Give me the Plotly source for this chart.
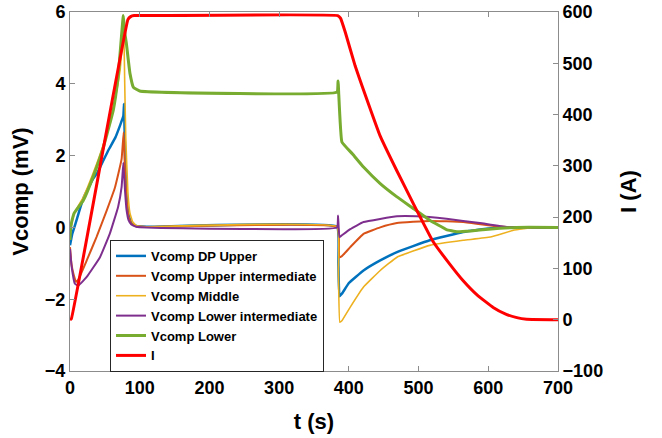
import plotly.graph_objects as go

# ---------------- data ----------------
t_blue = [0, 3, 7, 14, 20, 33, 40, 55, 65, 72, 76.5, 77.5, 79, 81, 84, 88, 95, 110,
          383, 385, 386.5, 390, 400, 421, 445, 469, 516, 564, 612, 650, 700]
v_blue = [-0.5, -0.2, 0.05, 0.5, 0.85, 1.35, 1.55, 2.15, 2.5, 2.85, 3.1, 3.44, 2.0, 0.9, 0.35, 0.12, 0.04, 0.02,
          0.02, -1.0, -1.92, -1.85, -1.55, -1.2, -0.92, -0.69, -0.36, -0.13, 0.0, 0.0, 0.0]

t_orange = [0, 2, 5, 8.6, 12, 24, 38, 52.6, 64.6, 74, 77, 79, 81, 84, 88, 95, 110,
            384, 386, 390, 402, 421, 445, 469, 516, 564, 612, 640, 700]
v_orange = [-0.55, -1.0, -1.3, -1.52, -1.45, -0.92, -0.27, 0.47, 1.12, 1.9, 2.65, 1.5, 0.8, 0.3, 0.1, 0.03, 0.01,
            0.01, -0.83, -0.8, -0.55, -0.18, 0.0, 0.12, 0.18, 0.15, 0.03, 0.0, 0.0]

t_yellow = [0, 1.5, 6, 19, 33, 45, 55, 65, 72, 77, 78.5, 80, 83, 86, 90, 95, 110,
            383, 385, 387, 390, 402, 421, 445, 469, 516, 564, 603, 636, 665, 700]
v_yellow = [-0.1, 0.0, 0.4, 0.84, 1.5, 2.14, 2.8, 3.6, 4.4, 5.6, 4.0, 2.5, 1.0, 0.4, 0.15, 0.05, 0.02,
            0.02, -1.2, -2.64, -2.6, -2.22, -1.66, -1.2, -0.83, -0.5, -0.36, -0.27, -0.08, 0.0, 0.0]

t_purple = [0, 2.4, 7, 12, 24, 43, 57, 69, 74, 76.5, 79, 81, 84, 88, 95, 110,
            383, 384.5, 386.5, 390, 402, 421, 469, 497, 540, 588, 627, 700]
v_purple = [-0.6, -1.1, -1.57, -1.62, -1.38, -0.83, -0.18, 0.57, 1.12, 1.8, 1.0, 0.5, 0.2, 0.08, 0.02, 0.0,
            0.0, 0.33, -0.27, -0.22, -0.05, 0.15, 0.31, 0.31, 0.24, 0.12, 0.01, 0.0]

t_green = [0, 1, 3, 6, 19, 33, 48, 62, 69, 76.5, 78, 81, 86, 91, 100,
           383, 384.5, 390, 405, 421, 445, 469, 493, 516, 540, 555, 575, 600, 640, 700]
v_green = [-0.35, 0.0, 0.2, 0.4, 0.75, 1.4, 2.24, 3.26, 4.19, 5.9, 5.5, 5.1, 4.29, 3.9, 3.8,
           3.77, 4.08, 2.38, 2.05, 1.68, 1.22, 0.85, 0.52, 0.2, -0.06, -0.12, -0.1, -0.05, 0.0, 0.0]

t_current = [0, 2, 83, 87, 92, 100, 384, 388, 395, 409, 420, 445, 469, 493, 521, 545, 564, 585, 607, 625, 641, 655, 700]
i_current = [0, 2, 585, 591, 593, 593, 593, 588, 560, 495, 452, 358, 290, 225, 152, 108, 76, 47, 24, 11, 4, 1, 0]

names = ["Vcomp DP Upper", "Vcomp Upper intermediate", "Vcomp Middle",
         "Vcomp Lower intermediate", "Vcomp Lower", "I"]

x_ticks = [0, 100, 200, 300, 400, 500, 600, 700]
y_ticks = [-4, -2, 0, 2, 4, 6]
y2_ticks = [-100, 0, 100, 200, 300, 400, 500, 600]

# ---------------- figure ----------------
FONT = "Liberation Sans, Arial, sans-serif"
AX = "#8c8c8c"

fig = go.Figure()
series = [
    (t_blue, v_blue, "#0072BD", 2.5),
    (t_orange, v_orange, "#D95319", 2),
    (t_yellow, v_yellow, "#EDB120", 1.6),
    (t_purple, v_purple, "#7E2F8E", 2),
    (t_green, v_green, "#77AC30", 3),
]
for (tx, vy, col, w), nm in zip(series, names[:5]):
    fig.add_trace(go.Scatter(x=tx, y=vy, mode="lines", name=nm,
                             line=dict(color=col, width=w, shape="spline", smoothing=0.3)))
fig.add_trace(go.Scatter(x=t_current, y=i_current, mode="lines", name=names[5],
                         yaxis="y2", line=dict(color="#FF0000", width=3, shape="spline", smoothing=0.3)))

tickfont = dict(family=FONT, size=18, color="black", weight="bold")
titlefont = dict(family=FONT, size=22, color="black", weight="bold")

fig.update_layout(
    width=662, height=438,
    margin=dict(l=70, r=104, t=12, b=67, autoexpand=False),
    paper_bgcolor="white", plot_bgcolor="white",
    showlegend=True,
    legend=dict(x=0.082, y=0.365, xanchor="left", yanchor="top",
                bgcolor="white", bordercolor="#262626", borderwidth=1,
                font=dict(family=FONT, size=13, color="black", weight="bold"),
                itemwidth=30, tracegroupgap=0),
    xaxis=dict(range=[0, 700], tickvals=x_ticks, ticks="inside", ticklen=5,
               tickcolor=AX, showline=True, linecolor=AX, linewidth=1,
               mirror="ticks", showgrid=False, zeroline=False, automargin=False,
               tickfont=tickfont, ticklabeloverflow="allow",
               title=dict(text="t (s)", font=titlefont, standoff=17)),
    yaxis=dict(range=[-4, 6], tickvals=y_ticks, ticks="inside", ticklen=5,
               tickcolor=AX, showline=True, linecolor=AX, linewidth=1,
               showgrid=False, zeroline=False, tickfont=tickfont, automargin=False,
               ticklabeloverflow="allow",
               title=dict(text="Vcomp (mV)", font=titlefont, standoff=10)),
    yaxis2=dict(range=[-100, 600], tickvals=y2_ticks, ticks="inside", ticklen=5,
                tickcolor=AX, showline=True, linecolor=AX, linewidth=1,
                overlaying="y", side="right", anchor="x", automargin=False,
                showgrid=False, zeroline=False, tickfont=tickfont,
                ticklabeloverflow="allow",
                title=dict(text="I (A)", font=titlefont, standoff=18)),
)

fig.write_html("out.html", config={"displayModeBar": False},
               post_script="document.body.style.margin='0';")
